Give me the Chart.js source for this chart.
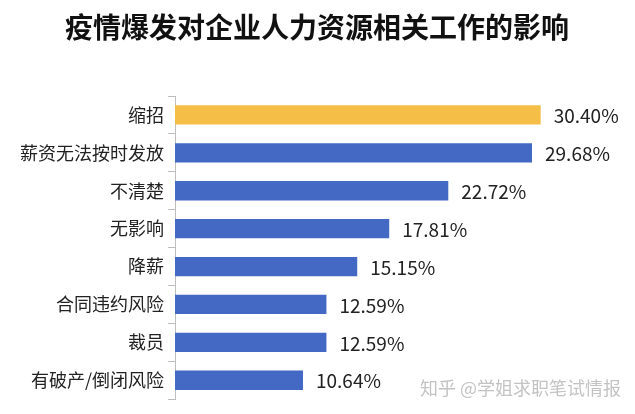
<!DOCTYPE html>
<html>
<head>
<meta charset="utf-8">
<script src="https://cdn.jsdelivr.net/npm/chart.js@4"></script>
<style>
  html, body { margin: 0; padding: 0; background: #fff; }
  #wrap { width: 635px; height: 414px; }
</style>
</head>
<body>
<div id="wrap"><canvas id="hrChart" width="635" height="414"></canvas></div>
<script>
// ---- data ----
const categories = ["缩招", "薪资无法按时发放", "不清楚", "无影响", "降薪", "合同违约风险", "裁员", "有破产/倒闭风险"];
const shares = [30.40, 29.68, 22.72, 17.81, 15.15, 12.59, 12.59, 10.64];
const chartTitle = "疫情爆发对企业人力资源相关工作的影响";
const watermark = "知乎 @学姐求职笔试情报";

const FONT = '"Noto Sans CJK SC", "Noto Sans", sans-serif';

// first bar highlighted
const barColors = shares.map((v, i) => i === 0 ? "#F5BE47" : "#4369C4");

// title (centred on the page), value labels, watermark
const overlay = {
  id: "overlay",
  afterDatasetsDraw(chart) {
    const ctx = chart.ctx;
    const meta = chart.getDatasetMeta(0);
    ctx.save();
    ctx.textBaseline = "middle";

    ctx.font = "bold 28px " + FONT;
    ctx.fillStyle = "#111";
    ctx.textAlign = "center";
    ctx.fillText(chartTitle, 317, 27);

    ctx.font = "19px " + FONT;
    ctx.fillStyle = "#222";
    ctx.textAlign = "left";
    meta.data.forEach((bar, i) => {
      ctx.fillText(shares[i].toFixed(2) + "%", bar.x + 13, bar.y + 1);
    });

    ctx.font = "18px " + FONT;
    ctx.fillStyle = "rgba(170,170,170,0.7)";
    ctx.textAlign = "right";
    ctx.fillText(watermark, 621, 388);
    ctx.restore();
  }
};

new Chart(document.getElementById("hrChart"), {
  type: "bar",
  data: {
    labels: categories,
    datasets: [{
      data: shares,
      backgroundColor: barColors,
      barPercentage: 0.51,
      categoryPercentage: 1.0
    }]
  },
  options: {
    indexAxis: "y",
    responsive: false,
    animation: false,
    layout: { padding: { left: 0, right: 39, top: 96, bottom: 3 } },
    plugins: {
      legend: { display: false },
      tooltip: { enabled: false },
      title: { display: false }
    },
    scales: {
      x: {
        display: false,
        min: 0,
        max: 35
      },
      y: {
        afterFit(scale) { scale.width = 175; },
        border: { display: true, color: "#bdbdbd", width: 1 },
        grid: {
          offset: true,
          drawOnChartArea: false,
          drawTicks: true,
          tickLength: 7,
          color: "#bdbdbd"
        },
        ticks: {
          color: "#222",
          padding: 4,
          font: { family: FONT, size: 18 }
        }
      }
    }
  },
  plugins: [overlay]
});
</script>
</body>
</html>
